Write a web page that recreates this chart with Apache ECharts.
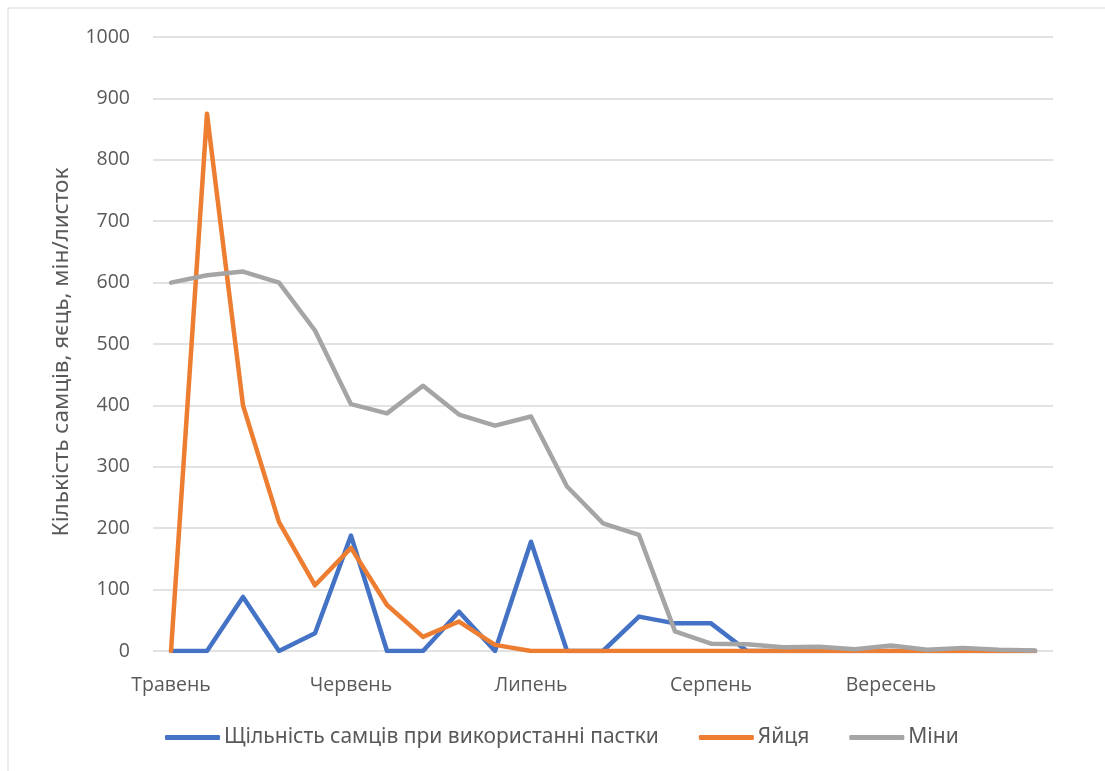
<!DOCTYPE html>
<html>
<head>
<meta charset="utf-8">
<script src="https://cdn.jsdelivr.net/npm/echarts@6/dist/echarts.min.js"></script>
<style>
html,body{margin:0;padding:0;background:#fff;}
#chart{width:1105px;height:771px;}
</style>
</head>
<body>
<div id="chart"></div>
<script>
// 25 observation points (May – September)
const categories = ['1','2','3','4','5','6','7','8','9','10','11','12','13','14','15','16','17','18','19','20','21','22','23','24','25'];
const monthLabels = ['Травень','Червень','Липень','Серпень','Вересень'];
const seriesNames = ['Щільність самців при використанні пастки','Яйця','Міни'];
const males = [0,0,88,0,29,188,0,0,64,0,178,0,0,56,45,45,0,0,0,0,0,0,0,0,0];
const eggs  = [0,875,400,210,107,168,75,23,48,10,0,0,0,0,0,0,0,0,0,0,0,0,0,0,0];
const mines = [600,612,618,600,522,402,387,432,385,367,382,268,208,189,32,12,11,6,7,3,9,2,5,2,1];
const yTicks = {min:0, max:1000, interval:100};
const yTitle = 'Кількість самців, яєць, мін/листок';

const chart = echarts.init(document.getElementById('chart'));
const textColor = '#595959';
const narrow = '"Liberation Sans Narrow", "Noto Sans", sans-serif';
const colors = ['#4472C4','#ED7D31','#A5A5A5'];
const dataSets = [males, eggs, mines];

chart.setOption({
  animation:false,
  color: colors,
  graphic:[{type:'rect', shape:{x:8,y:8,width:1200,height:900}, style:{fill:'none', stroke:'#D9D9D9', lineWidth:1}, silent:true}],
  grid:{left:153, right:52, top:37, bottom:120, containLabel:false},
  legend:{
    top: 722, left:160,
    itemWidth:55, itemHeight:5, itemGap:40,
    icon:'roundRect',
    textStyle:{color:textColor, fontSize:21, fontFamily:narrow, padding:[0,0,0,-1]},
    data: seriesNames
  },
  xAxis:{
    type:'category', data:categories, boundaryGap:true,
    axisLine:{show:false}, axisTick:{show:false},
    axisLabel:{interval:4, margin:24, color:textColor, fontSize:19.5, fontFamily:'"Open Sans", sans-serif',
      formatter:(v,i)=> monthLabels[Math.round(i/5)] || ''}
  },
  yAxis:{
    type:'value', min:yTicks.min, max:yTicks.max, interval:yTicks.interval,
    name:yTitle, nameLocation:'middle', nameGap:80, nameRotate:90,
    nameTextStyle:{color:textColor, fontSize:22.5, fontFamily:narrow, padding:[0,16,0,0]},
    axisLine:{show:false}, axisTick:{show:false},
    axisLabel:{margin:23, color:textColor, fontSize:19.5, fontFamily:'"Open Sans", sans-serif',
      formatter:(v)=> String(v)},
    splitLine:{lineStyle:{color:'#D9D9D9', width:1.5}}
  },
  series: seriesNames.map((n,k)=>({
    name:n, type:'line', data:dataSets[k], symbol:'none',
    lineStyle:{width:4.5, cap:'round', join:'round', color:colors[k]},
    itemStyle:{color:colors[k]}, z: 2+k
  }))
});
</script>
</body>
</html>
